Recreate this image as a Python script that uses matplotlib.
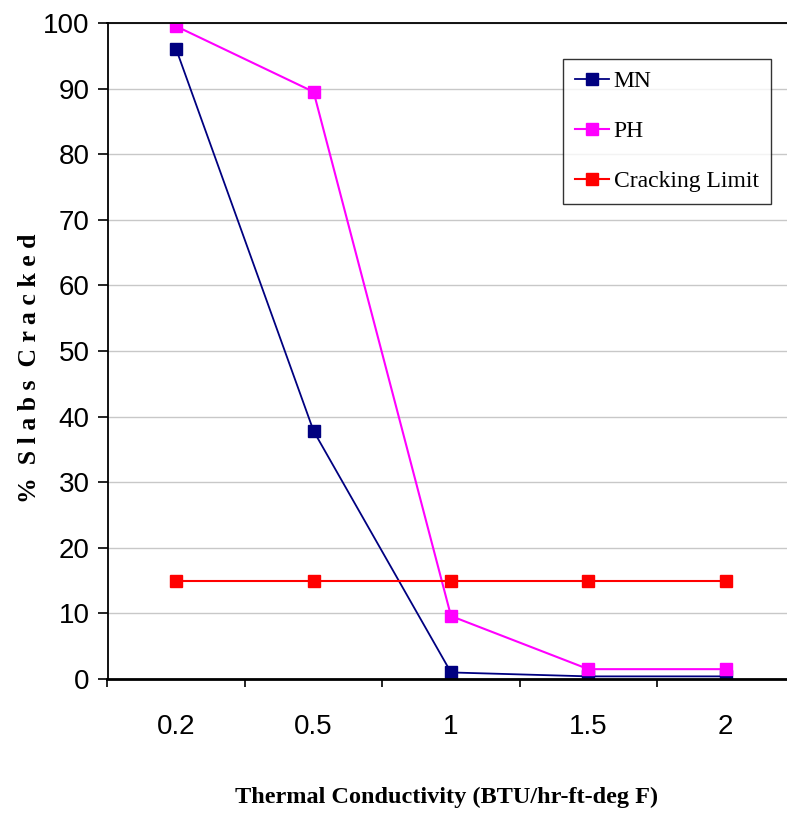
# Slabs cracked vs thermal conductivity
import matplotlib
matplotlib.use('Agg')
import matplotlib.pyplot as plt

# chart data
conductivity = ['0.2', '0.5', '1', '1.5', '2']
mn = [96, 37.8, 1.0, 0.4, 0.4]
ph = [99.5, 89.5, 9.6, 1.5, 1.5]
cracking_limit = [15, 15, 15, 15, 15]

tick_font = ['Liberation Sans Narrow', 'Liberation Sans', 'DejaVu Sans']
serif_font = ['Liberation Serif', 'DejaVu Serif']

fig = plt.figure(figsize=(7.87, 8.17), dpi=100)
ax = fig.add_axes([107.5 / 787, 138 / 817, 687 / 787, 656 / 817])

x = list(range(len(conductivity)))
ax.plot(x, mn, color='#000080', marker='s', markersize=8, linewidth=1.3, label='MN')
ax.plot(x, ph, color='#FF00FF', marker='s', markersize=8, linewidth=1.5, label='PH')
ax.plot(x, cracking_limit, color='#FF0000', marker='s', markersize=8, linewidth=1.5,
        label='Cracking Limit')

ax.set_xlim(-0.5, len(conductivity) - 0.5)
ax.set_ylim(0, 100)
ax.set_yticks(range(0, 101, 10))
ax.yaxis.grid(True, color='#c8c8c8', linewidth=1)
ax.set_axisbelow(True)

# category ticks between the groups, labels centred
ax.set_xticks([i - 0.5 for i in range(len(conductivity) + 1)])
ax.set_xticklabels([])
ax.set_xticks(x, minor=True)
ax.set_xticklabels(conductivity, minor=True)
ax.tick_params(axis='x', which='major', direction='out', length=6, width=1.2)
ax.tick_params(axis='x', which='minor', length=0, pad=25)
ax.tick_params(axis='y', direction='out', length=7, width=1.2, pad=6)
for lab in ax.get_xticklabels(minor=True) + ax.get_yticklabels():
    lab.set_family(tick_font)
    lab.set_fontsize(20)

for side in ['left', 'top', 'right']:
    ax.spines[side].set_linewidth(1.3)
ax.spines['bottom'].set_linewidth(2)

fig.text(447 / 787, 1 - 797 / 817, 'Thermal Conductivity (BTU/hr-ft-deg F)',
         family=serif_font, fontweight='bold', fontsize=17.5,
         ha='center', va='center')
fig.text(30 / 787, 1 - 368 / 817, '%  S l a b s  C r a c k e d',
         family=serif_font, fontweight='bold', fontsize=18.5,
         rotation=90, ha='center', va='center')

leg = ax.legend(loc='upper left', prop={'family': serif_font, 'size': 17},
                frameon=True, fancybox=False, handlelength=1.45, handletextpad=0.2,
                borderpad=0.5, borderaxespad=0, labelspacing=1.2)
leg.get_frame().set_edgecolor('black')
leg.get_frame().set_linewidth(1)
# place legend box top-left at pixel (563, 59)
leg.set_bbox_to_anchor((563 / 787, 1 - 59 / 817), transform=fig.transFigure)

fig.savefig('out.png', dpi=100)
